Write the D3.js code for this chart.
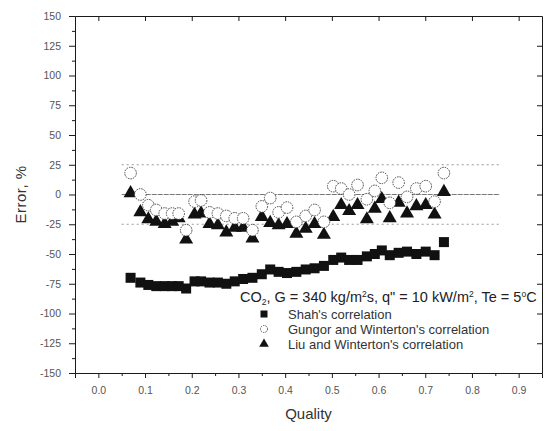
<!DOCTYPE html>
<html>
<head>
<meta charset="utf-8">
<script src="https://cdn.jsdelivr.net/npm/d3@7"></script>
<style>
  body { margin: 0; background: #fff; }
  svg { display: block; font-family: "Liberation Sans", Arial, sans-serif; }
</style>
</head>
<body>
<div id="chart"></div>
<script>
// Quality values (shared by the three series)
const quality = [0.069, 0.09, 0.107, 0.124, 0.142, 0.158, 0.172, 0.188, 0.206, 0.22,
  0.238, 0.256, 0.274, 0.292, 0.31, 0.33, 0.35, 0.368, 0.386, 0.404,
  0.424, 0.444, 0.463, 0.483, 0.503, 0.52, 0.537, 0.555, 0.575, 0.592,
  0.607, 0.624, 0.643, 0.661, 0.681, 0.701, 0.72, 0.74];

// Error, %
const shah = [-70, -74, -76, -77, -77, -77, -77, -79, -73, -73,
  -74, -74, -75, -73, -71, -70, -67, -63, -65, -66,
  -65, -63, -62, -60, -55, -53, -55, -55, -52, -50,
  -47, -51, -49, -48, -50, -48, -51, -40];
const gungor = [18, 0, -9, -13, -16, -16, -16, -30, -6, -5,
  -15, -16, -18, -20, -20, -30, -10, -3, -15, -11,
  -23, -18, -13, -23, 7, 5, 0, 8, -4, 3,
  14, -7, 10, -2, 5, 7, -6, 18];
const liu = [2, -14, -20, -22, -24, -22, -19, -37, -16, -15,
  -24, -25, -31, -27, -27, -36, -18, -23, -25, -24,
  -32, -28, -24, -33, -18, -8, -13, -8, -20, -11,
  -3, -19, -6, -15, -9, -8, -16, 3];

const xTicks = [0, 0.1, 0.2, 0.3, 0.4, 0.5, 0.6, 0.7, 0.8, 0.9];
const yTicks = [-150, -125, -100, -75, -50, -25, 0, 25, 50, 75, 100, 125, 150];
const refLines = [25, 0, -25];
const legendNames = ["Shah's correlation", "Gungor and Winterton's correlation", "Liu and Winterton's correlation"];

const W = 546, H = 431;
const pL = 75, pR = 542, pT = 16, pB = 373;
const ink = "#1a1a1a";

const svg = d3.select("#chart").append("svg")
  .attr("width", W)
  .attr("height", H);

const x = d3.scaleLinear().domain([-0.05, 0.95]).range([pL, pR]);
const y = d3.scaleLinear().domain([-150, 150]).range([pB, pT]);

// minor ticks halfway between the major ones
const xMinor = xTicks.map(d => d + 0.05).filter(d => d < 0.95);
const yMinor = yTicks.slice(1).map(d => d - 12.5);

// reference lines at +25, 0, -25
svg.selectAll(".ref")
  .data(refLines)
  .enter()
  .append("line")
  .attr("class", "ref")
  .attr("x1", x(0.05))
  .attr("x2", x(0.86))
  .attr("y1", d => y(d))
  .attr("y2", d => y(d))
  .attr("stroke", d => d === 0 ? "#777" : "#999")
  .attr("stroke-width", 1)
  .attr("stroke-dasharray", d => d === 0 ? "5,1" : "2,3");

// Axes
const axisStyle = g => {
  g.selectAll("path, line").attr("stroke", ink);
  g.selectAll("text").attr("fill", "#555").style("font-size", "10.5px");
};

svg.append("g")
  .attr("transform", `translate(0,${pB})`)
  .call(d3.axisBottom(x).tickValues(xTicks).tickFormat(d3.format(".1f")).tickSize(5).tickPadding(9))
  .call(axisStyle);
svg.append("g")
  .attr("transform", `translate(0,${pB})`)
  .call(d3.axisBottom(x).tickValues(xMinor).tickFormat("").tickSize(3))
  .call(g => g.select(".domain").remove())
  .call(axisStyle);

svg.append("g")
  .attr("transform", `translate(${pL},0)`)
  .call(d3.axisLeft(y).tickValues(yTicks).tickFormat(d => String(d)).tickSize(6).tickPadding(8))
  .call(axisStyle);
svg.append("g")
  .attr("transform", `translate(${pL},0)`)
  .call(d3.axisLeft(y).tickValues(yMinor).tickFormat("").tickSize(3))
  .call(g => g.select(".domain").remove())
  .call(axisStyle);

// top and right frame, ticks inward
svg.append("g")
  .attr("transform", `translate(0,${pT})`)
  .call(d3.axisTop(x).tickValues(xTicks).tickFormat("").tickSizeInner(-5).tickSizeOuter(0))
  .call(axisStyle);
svg.append("g")
  .attr("transform", `translate(${pR},0)`)
  .call(d3.axisRight(y).tickValues(yTicks).tickFormat("").tickSizeInner(-5).tickSizeOuter(0))
  .call(axisStyle);

// Axis titles
svg.append("text")
  .attr("x", (pL + pR) / 2)
  .attr("y", 419)
  .attr("text-anchor", "middle")
  .attr("fill", "#333")
  .style("font-size", "15px")
  .text("Quality");

svg.append("text")
  .attr("transform", `translate(26,${y(0)}) rotate(-90)`)
  .attr("text-anchor", "middle")
  .attr("fill", "#333")
  .style("font-size", "15px")
  .style("letter-spacing", "0.5px")
  .text("Error, %");

// Data
const rows = quality.map((q, i) => ({ q: q, shah: shah[i], gungor: gungor[i], liu: liu[i] }));

const sq = 10;
svg.append("g").selectAll("rect")
  .data(rows)
  .enter()
  .append("rect")
  .attr("x", d => x(d.q) - sq / 2)
  .attr("y", d => y(d.shah) - sq / 2)
  .attr("width", sq)
  .attr("height", sq)
  .attr("fill", "#111");

const tri = d3.symbol().type(d3.symbolTriangle).size(85);
svg.append("g").selectAll("path")
  .data(rows)
  .enter()
  .append("path")
  .attr("d", tri)
  .attr("transform", d => `translate(${x(d.q)},${y(d.liu) + 1})`)
  .attr("fill", "#111");

svg.append("g").selectAll("circle")
  .data(rows)
  .enter()
  .append("circle")
  .attr("cx", d => x(d.q))
  .attr("cy", d => y(d.gungor))
  .attr("r", 5.8)
  .attr("fill", "#fff")
  .attr("stroke", "#444")
  .attr("stroke-width", 1)
  .attr("stroke-dasharray", "1.5,1");

// Legend
const legend = svg.append("g").attr("transform", "translate(240,0)");
const title = legend.append("text")
  .attr("x", 0)
  .attr("y", 302)
  .attr("fill", "#222")
  .style("font-size", "14.5px");
title.append("tspan").text("CO");
title.append("tspan").attr("dy", 3).style("font-size", "8.5px").text("2");
title.append("tspan").attr("dy", -3).text(", G = 340 kg/m");
title.append("tspan").attr("dy", -5).style("font-size", "8.5px").text("2");
title.append("tspan").attr("dy", 5).text("s, q\" = 10 kW/m");
title.append("tspan").attr("dy", -5).style("font-size", "8.5px").text("2");
title.append("tspan").attr("dy", 5).text(", Te = 5");
title.append("tspan").attr("dy", -5).style("font-size", "8.5px").text("o");
title.append("tspan").attr("dy", 5).text("C");

const legendRows = legend.selectAll(".lg")
  .data(legendNames)
  .enter()
  .append("g")
  .attr("class", "lg")
  .attr("transform", (d, i) => `translate(24,${314 + i * 15})`);

legendRows.append("text")
  .attr("x", 24)
  .attr("y", 4.5)
  .attr("fill", "#333")
  .style("font-size", "13px")
  .text(d => d);

legendRows.filter((d, i) => i === 0).append("rect")
  .attr("x", -3.5).attr("y", -3.5).attr("width", 7).attr("height", 7).attr("fill", "#111");
legendRows.filter((d, i) => i === 1).append("circle")
  .attr("r", 3.5).attr("fill", "#fff").attr("stroke", "#555").attr("stroke-dasharray", "1.5,1");
legendRows.filter((d, i) => i === 2).append("path")
  .attr("d", d3.symbol().type(d3.symbolTriangle).size(40)).attr("fill", "#111");
</script>
</body>
</html>
